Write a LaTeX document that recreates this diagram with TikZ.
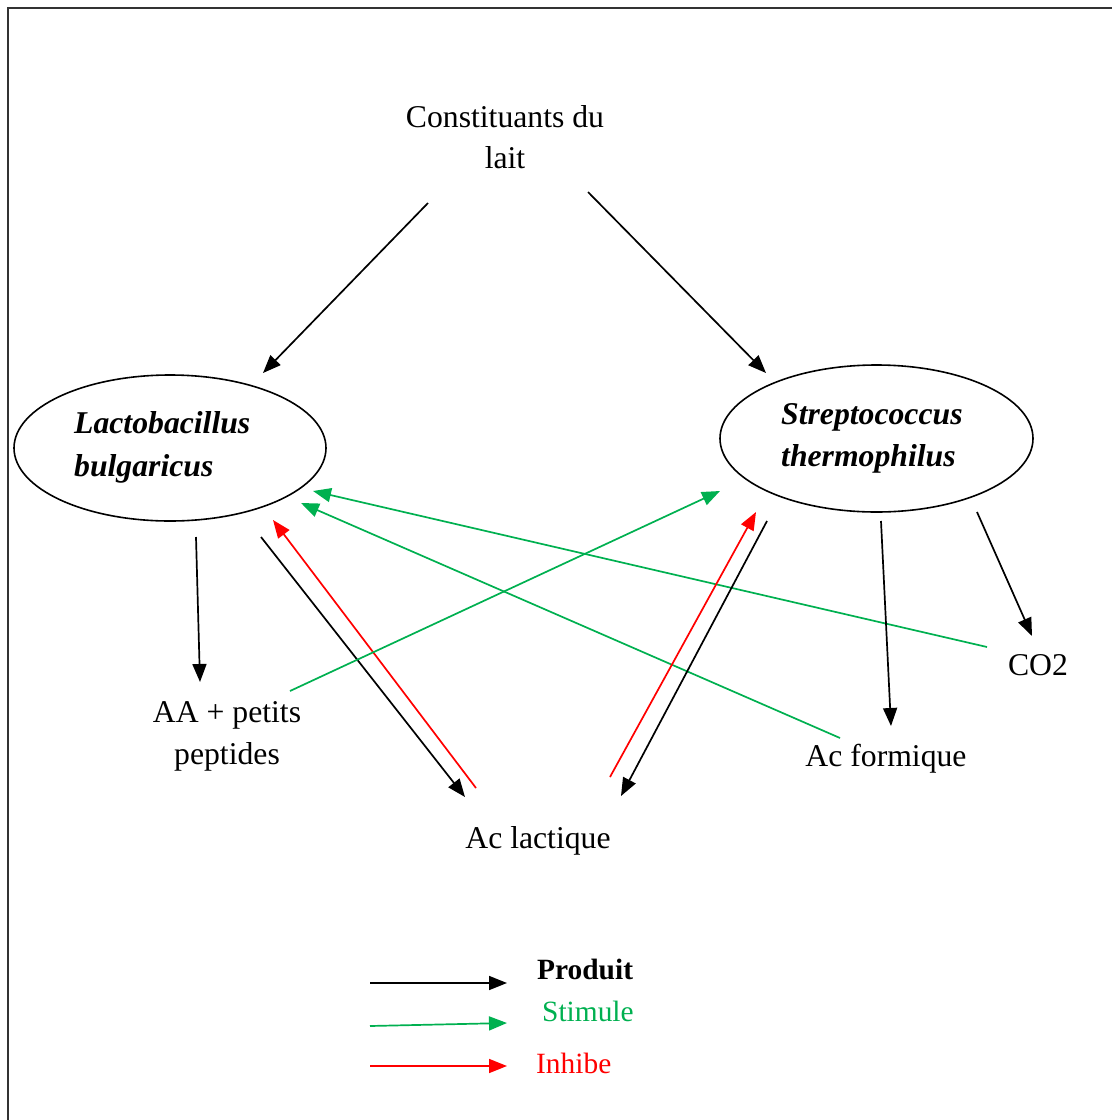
\documentclass[tikz,border=0pt]{standalone}
\usepackage{fontspec}
\setmainfont{Liberation Serif}
\usetikzlibrary{arrows.meta,shapes.geometric}
\definecolor{stimgreen}{RGB}{0,176,80}
\definecolor{inhred}{RGB}{255,0,0}
\begin{document}
\begin{tikzpicture}[x=1pt,y=-1pt,
  txt/.style={font=\fontsize{31.7}{42}\selectfont, inner sep=0pt},
  btxt/.style={font=\fontsize{31.7}{42}\selectfont\bfseries\itshape, inner sep=0pt},
  legtxt/.style={font=\fontsize{29.4}{36}\selectfont, inner sep=0pt},
  germ/.style={draw, ellipse, line width=1.6pt, inner sep=0pt},
  tip/.style={-{Triangle[length=18pt,width=14pt]}},
  prod/.style={tip, draw=black, line width=1.7pt},
  stim/.style={tip, draw=stimgreen, fill=stimgreen, line width=1.7pt},
  inh/.style={tip, draw=inhred, fill=inhred, line width=1.7pt}]
\useasboundingbox (0,0) rectangle (1112,1120);
% frame (only left and top edges visible)
\draw[line width=2pt, black!80] (7.5,1120) -- (7.5,8) -- (1112,8);

% texts
\node[txt, anchor=base] (c1) at (505,127) {Constituants du};
\node[txt, anchor=base] (c2) at (505,168) {lait};
\node[germ, minimum width=312pt, minimum height=146pt] (lb) at (170,448) {};
\node[btxt, anchor=base west] (lb1) at (74,433) {Lactobacillus};
\node[btxt, anchor=base west] (lb2) at (74,476) {bulgaricus};
\node[germ, minimum width=313pt, minimum height=147pt] (st) at (876.5,438.5) {};
\node[btxt, anchor=base west] (st1) at (781,424) {Streptococcus};
\node[btxt, anchor=base west] (st2) at (781,466) {thermophilus};
\node[txt, anchor=base] (aa1) at (227,722) {AA + petits};
\node[txt, anchor=base] (aa2) at (227,764) {peptides};
\node[txt, anchor=base] (lac) at (538,848) {Ac lactique};
\node[txt, anchor=base] (form) at (886,766) {Ac formique};
\node[txt, anchor=base] (co2) at (1038,675) {CO2};

% connector end points
\coordinate (cL) at (428,203);  \coordinate (lbT) at (263,373);
\coordinate (cR) at (588,192);  \coordinate (stT) at (766,373);
\coordinate (lbA) at (196,537); \coordinate (aaT) at (200,682);
\coordinate (lbB) at (261,537); \coordinate (lacL) at (465,797);
\coordinate (lacR) at (476,788); \coordinate (lbR) at (273,520);
\coordinate (aaS) at (290,691); \coordinate (stL) at (720,491);
\coordinate (co2S) at (987,647); \coordinate (lbG1) at (313,491);
\coordinate (formS) at (840,738); \coordinate (lbG2) at (301,503);
\coordinate (lacA) at (610,777); \coordinate (stR) at (756,512);
\coordinate (stB) at (767,521); \coordinate (lacB) at (621,796);
\coordinate (stC) at (881,521); \coordinate (formT) at (891,726);
\coordinate (stD) at (977,512); \coordinate (co2T) at (1032,636);

\draw[prod] (cL) -- (lbT);
\draw[prod] (cR) -- (stT);
\draw[prod] (lbA) -- (aaT);
\draw[prod] (lbB) -- (lacL);
\draw[inh] (lacR) -- (lbR);
\draw[stim] (aaS) -- (stL);
\draw[stim] (co2S) -- (lbG1);
\draw[stim] (formS) -- (lbG2);
\draw[inh] (lacA) -- (stR);
\draw[prod] (stB) -- (lacB);
\draw[prod] (stC) -- (formT);
\draw[prod] (stD) -- (co2T);

% legend
\coordinate (k1a) at (370,983);  \coordinate (k1b) at (507,983);
\coordinate (k2a) at (370,1026); \coordinate (k2b) at (507,1023);
\coordinate (k3a) at (370,1066); \coordinate (k3b) at (507,1066);
\draw[prod] (k1a) -- (k1b);
\draw[stim] (k2a) -- (k2b);
\draw[inh] (k3a) -- (k3b);
\node[legtxt, font=\fontsize{29.4}{36}\selectfont\bfseries, anchor=base west] (lg1) at (537,979) {Produit};
\node[legtxt, text=stimgreen, anchor=base west] (lg2) at (542,1021) {Stimule};
\node[legtxt, text=inhred, anchor=base west] (lg3) at (536,1073) {Inhibe};
\end{tikzpicture}
\end{document}
